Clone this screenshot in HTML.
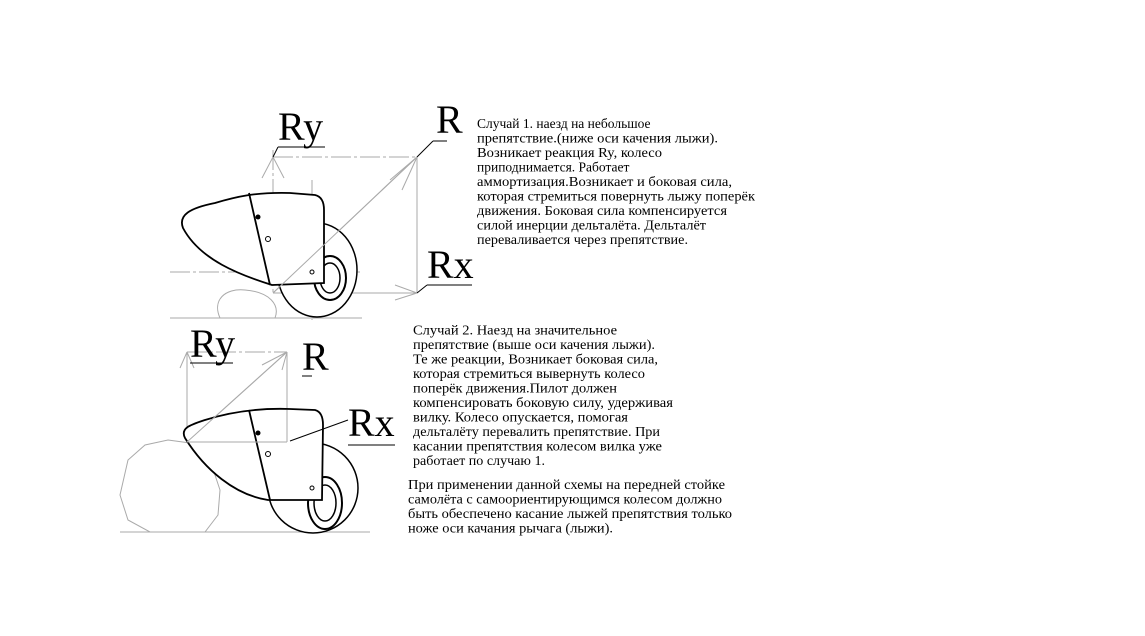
<!DOCTYPE html>
<html><head><meta charset="utf-8"><style>
html,body{margin:0;padding:0;background:#fff;}
svg{display:block}
text{font-family:"Liberation Serif","Noto Serif CJK SC",serif;fill:#000}
.t{font-size:13.5px}
.big{font-size:40px}
</style></head><body>
<svg width="1145" height="636" viewBox="0 0 1145 636" xmlns="http://www.w3.org/2000/svg">
<rect width="1145" height="636" fill="#fff"/>
<!-- Diagram 1 -->
<g stroke="#aaa" stroke-width="1" fill="none">
<line x1="170" y1="272" x2="360" y2="272" stroke-dasharray="20,3,3,3"/>
<line x1="170" y1="318" x2="362" y2="318"/>
<line x1="273" y1="150" x2="273" y2="295" stroke-dasharray="20,3,3,3"/>
<line x1="312" y1="180" x2="312" y2="320" stroke-dasharray="20,3,3,3"/>
<line x1="273" y1="157" x2="417" y2="157" stroke-dasharray="20,3,3,3"/>
<line x1="417" y1="157" x2="417" y2="293"/>
<line x1="273" y1="293" x2="417" y2="293"/>
<line x1="273" y1="293" x2="417" y2="157"/>
<line x1="262" y1="178" x2="273" y2="157"/><line x1="284" y1="178" x2="273" y2="157"/>
<line x1="390" y1="180" x2="417" y2="157"/><line x1="402" y1="190" x2="417" y2="157"/>
<line x1="395" y1="285" x2="417" y2="293"/><line x1="395" y1="300" x2="417" y2="293"/>
<path d="M220 318 C212 300 225 288 245 290 C270 292 280 305 275 318"/>
<path d="M282 250 C300 240 300 270 285 280" />
</g>
<ellipse cx="317" cy="270" rx="40" ry="47" fill="#fff" stroke="#000" stroke-width="1.5"/>
<ellipse cx="330" cy="278" rx="16" ry="22" fill="none" stroke="#000" stroke-width="2"/>
<ellipse cx="330" cy="278" rx="10" ry="15" fill="none" stroke="#000" stroke-width="1.5"/>
<path d="M183 228 C178 215 190 208 215 203 C235 197 255 192 290 193 L315 195 Q324 197 324 210 L324 283 L272 285 C240 275 200 260 183 228 Z" fill="#fff" stroke="#000" stroke-width="1.8"/>
<line x1="249" y1="193" x2="270" y2="285" stroke="#000" stroke-width="1.8"/>
<circle cx="258" cy="217" r="2.5" fill="#000"/>
<circle cx="268" cy="239" r="2.5" fill="#fff" stroke="#000"/>
<circle cx="312" cy="272" r="2" fill="#fff" stroke="#000"/>
<line x1="273" y1="293" x2="417" y2="157" stroke="#aaa" stroke-width="1"/>
<text class="big" x="278" y="140">Ry</text>
<line x1="278" y1="147" x2="325" y2="147" stroke="#000"/>
<line x1="278" y1="147" x2="273" y2="157" stroke="#000"/>
<text class="big" x="436" y="133">R</text>
<line x1="433" y1="141" x2="447" y2="141" stroke="#000"/>
<line x1="433" y1="141" x2="417" y2="157" stroke="#000"/>
<text class="big" x="427" y="278">Rx</text>
<line x1="427" y1="285" x2="472" y2="285" stroke="#000"/>
<line x1="427" y1="285" x2="417" y2="293" stroke="#000"/>

<!-- Diagram 2 -->
<g stroke="#aaa" stroke-width="1" fill="none">
<polygon points="168,440 190,443 210,460 220,490 218,515 205,532 150,532 128,520 120,495 128,460 145,445"/>
<line x1="120" y1="532" x2="370" y2="532"/>
<line x1="187" y1="352" x2="287" y2="352" stroke-dasharray="20,3,3,3"/>
<line x1="187" y1="352" x2="187" y2="442"/>
<line x1="287" y1="352" x2="287" y2="442"/>
<line x1="187" y1="442" x2="287" y2="442"/>
<line x1="187" y1="442" x2="287" y2="352"/>
<line x1="180" y1="368" x2="187" y2="352"/><line x1="194" y1="368" x2="187" y2="352"/>
<line x1="262" y1="365" x2="287" y2="352"/><line x1="282" y1="370" x2="287" y2="352"/>
<line x1="265" y1="435" x2="287" y2="442"/><line x1="265" y1="450" x2="287" y2="442"/>
</g>
<ellipse cx="313" cy="488" rx="45" ry="45" fill="#fff" stroke="#000" stroke-width="1.5"/>
<ellipse cx="325" cy="503" rx="17" ry="26" fill="none" stroke="#000" stroke-width="2"/>
<ellipse cx="325" cy="503" rx="11" ry="18" fill="none" stroke="#000" stroke-width="1.5"/>
<path d="M185 438 C180 428 190 425 205 420 C230 412 260 408 290 409 L315 410 Q323 412 323 425 L322 500 L268 500 C235 495 205 470 185 438 Z" fill="#fff" stroke="#000" stroke-width="1.8"/>
<line x1="249" y1="410" x2="270" y2="500" stroke="#000" stroke-width="1.8"/>
<circle cx="258" cy="433" r="2.5" fill="#000"/>
<circle cx="268" cy="454" r="2.5" fill="#fff" stroke="#000"/>
<circle cx="312" cy="488" r="2" fill="#fff" stroke="#000"/>
<g stroke="#aaa" stroke-width="1"><line x1="187" y1="442" x2="287" y2="442"/><line x1="187" y1="442" x2="287" y2="352"/><line x1="287" y1="410" x2="287" y2="442"/></g>
<text class="big" x="190" y="357">Ry</text>
<line x1="190" y1="363" x2="233" y2="363" stroke="#000"/>
<text class="big" x="302" y="370">R</text>
<line x1="302" y1="376" x2="312" y2="376" stroke="#000"/>
<text class="big" x="348" y="436">Rx</text>
<line x1="348" y1="445" x2="395" y2="445" stroke="#000"/>
<line x1="348" y1="420" x2="290" y2="441" stroke="#000"/>

<!-- Text block 1 -->
<g class="t">
<text x="477" y="128">Случай 1. наезд на небольшое</text>
<text x="477" y="142.5" textLength="241" lengthAdjust="spacingAndGlyphs">препятствие.(ниже оси качения лыжи).</text>
<text x="477" y="157" textLength="185" lengthAdjust="spacingAndGlyphs">Возникает реакция Ry, колесо</text>
<text x="477" y="171.5">приподнимается. Работает</text>
<text x="477" y="186" textLength="255" lengthAdjust="spacingAndGlyphs">аммортизация.Возникает и боковая сила,</text>
<text x="477" y="200.5" textLength="278" lengthAdjust="spacingAndGlyphs">которая стремиться повернуть лыжу поперёк</text>
<text x="477" y="215" textLength="250" lengthAdjust="spacingAndGlyphs">движения. Боковая сила компенсируется</text>
<text x="477" y="229.5" textLength="229" lengthAdjust="spacingAndGlyphs">силой инерции дельталёта. Дельталёт</text>
<text x="477" y="244" textLength="211" lengthAdjust="spacingAndGlyphs">переваливается через препятствие.</text>
</g>
<!-- Text block 2 -->
<g class="t">
<text x="413" y="334.5" textLength="204" lengthAdjust="spacingAndGlyphs">Случай 2. Наезд на значительное</text>
<text x="413" y="349" textLength="242" lengthAdjust="spacingAndGlyphs">препятствие (выше оси качения лыжи).</text>
<text x="413" y="363.5" textLength="245" lengthAdjust="spacingAndGlyphs">Те же реакции, Возникает боковая сила,</text>
<text x="413" y="378" textLength="232" lengthAdjust="spacingAndGlyphs">которая стремиться вывернуть колесо</text>
<text x="413" y="392.5" textLength="204" lengthAdjust="spacingAndGlyphs">поперёк движения.Пилот должен</text>
<text x="413" y="407" textLength="260" lengthAdjust="spacingAndGlyphs">компенсировать боковую силу, удерживая</text>
<text x="413" y="421.5" textLength="215" lengthAdjust="spacingAndGlyphs">вилку. Колесо опускается, помогая</text>
<text x="413" y="436" textLength="247" lengthAdjust="spacingAndGlyphs">дельталёту перевалить препятствие. При</text>
<text x="413" y="450.5" textLength="249" lengthAdjust="spacingAndGlyphs">касании препятствия колесом вилка уже</text>
<text x="413" y="465" textLength="132" lengthAdjust="spacingAndGlyphs">работает по случаю 1.</text>
</g>
<!-- Text block 3 -->
<g class="t">
<text x="408" y="489" textLength="317" lengthAdjust="spacingAndGlyphs">При применении данной схемы на передней стойке</text>
<text x="408" y="503.5" textLength="314" lengthAdjust="spacingAndGlyphs">самолёта с самоориентирующимся колесом должно</text>
<text x="408" y="518" textLength="324" lengthAdjust="spacingAndGlyphs">быть обеспечено касание лыжей препятствия только</text>
<text x="408" y="532.5" textLength="205" lengthAdjust="spacingAndGlyphs">ноже оси качания рычага (лыжи).</text>
</g>
</svg>
</body></html>
